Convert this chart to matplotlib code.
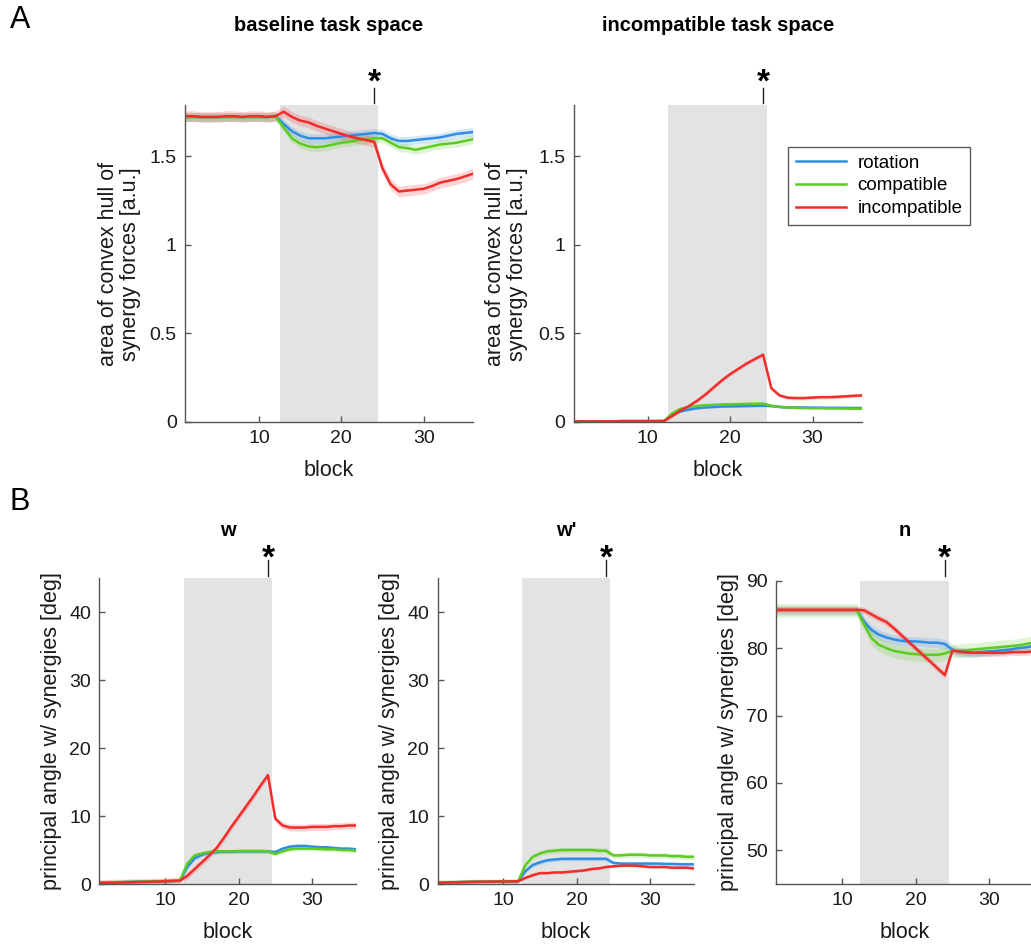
import matplotlib
matplotlib.use("Agg")
from matplotlib import pyplot as plt
from matplotlib.transforms import blended_transform_factory
import numpy as np

plt.rcParams['font.family'] = ['Liberation Sans', 'DejaVu Sans']

W, H = 1031, 946

blocks = list(range(1, 37))
series_names = ['rotation', 'compatible', 'incompatible']
colors = ['#2f8de4', '#5ccb22', '#f22b2b']

# A: area of convex hull, baseline task space
base_rot = [1.72, 1.72, 1.72, 1.72, 1.72, 1.72, 1.72, 1.72, 1.72, 1.72, 1.72, 1.725,
            1.68, 1.64, 1.615, 1.60, 1.60, 1.60, 1.605, 1.61, 1.615, 1.62, 1.625, 1.63,
            1.625, 1.60, 1.585, 1.585, 1.59, 1.595, 1.60, 1.605, 1.615, 1.625, 1.63, 1.635]
base_comp = [1.72, 1.72, 1.72, 1.72, 1.72, 1.72, 1.72, 1.72, 1.72, 1.72, 1.72, 1.725,
             1.66, 1.60, 1.57, 1.555, 1.55, 1.555, 1.565, 1.575, 1.58, 1.59, 1.595, 1.60,
             1.60, 1.575, 1.55, 1.545, 1.535, 1.545, 1.555, 1.565, 1.57, 1.575, 1.585, 1.595]
base_incomp = [1.725, 1.725, 1.72, 1.72, 1.72, 1.725, 1.725, 1.72, 1.725, 1.725, 1.72, 1.725,
               1.75, 1.72, 1.70, 1.69, 1.67, 1.655, 1.64, 1.625, 1.61, 1.60, 1.59, 1.58,
               1.43, 1.34, 1.30, 1.305, 1.31, 1.315, 1.33, 1.35, 1.36, 1.37, 1.385, 1.40]

# A: incompatible task space
inc_rot = [0.003, 0.003, 0.003, 0.004, 0.004, 0.004, 0.005, 0.005, 0.005, 0.005, 0.005, 0.006,
           0.04, 0.06, 0.07, 0.078, 0.082, 0.085, 0.087, 0.088, 0.089, 0.09, 0.091, 0.092,
           0.09, 0.085, 0.083, 0.082, 0.082, 0.081, 0.081, 0.08, 0.08, 0.08, 0.079, 0.079]
inc_comp = [0.003, 0.003, 0.003, 0.004, 0.004, 0.004, 0.005, 0.005, 0.005, 0.005, 0.005, 0.006,
            0.05, 0.075, 0.085, 0.09, 0.095, 0.097, 0.099, 0.10, 0.101, 0.102, 0.103, 0.104,
            0.092, 0.085, 0.082, 0.08, 0.079, 0.078, 0.078, 0.077, 0.077, 0.076, 0.075, 0.075]
inc_incomp = [0.003, 0.003, 0.003, 0.004, 0.004, 0.004, 0.005, 0.005, 0.005, 0.005, 0.005, 0.006,
              0.035, 0.065, 0.09, 0.12, 0.155, 0.195, 0.235, 0.27, 0.30, 0.33, 0.355, 0.38,
              0.19, 0.15, 0.137, 0.135, 0.135, 0.138, 0.14, 0.14, 0.142, 0.145, 0.148, 0.15]

# B: principal angles
w_rot = [0.2, 0.22, 0.25, 0.27, 0.3, 0.32, 0.35, 0.38, 0.4, 0.42, 0.45, 0.5,
         2.5, 3.8, 4.3, 4.6, 4.7, 4.75, 4.75, 4.8, 4.8, 4.8, 4.8, 4.8,
         4.7, 5.2, 5.5, 5.6, 5.6, 5.5, 5.4, 5.4, 5.3, 5.2, 5.2, 5.1]
w_comp = [0.2, 0.22, 0.25, 0.27, 0.3, 0.32, 0.35, 0.38, 0.4, 0.42, 0.45, 0.5,
          3.0, 4.2, 4.5, 4.7, 4.8, 4.8, 4.8, 4.85, 4.85, 4.85, 4.85, 4.8,
          4.4, 4.8, 5.1, 5.2, 5.2, 5.2, 5.15, 5.1, 5.1, 5.0, 5.0, 4.9]
w_incomp = [0.15, 0.18, 0.2, 0.22, 0.25, 0.28, 0.3, 0.33, 0.36, 0.4, 0.45, 0.5,
            1.2, 2.2, 3.2, 4.2, 5.3, 6.8, 8.4, 9.9, 11.4, 12.9, 14.5, 16.0,
            9.6, 8.6, 8.3, 8.3, 8.3, 8.4, 8.4, 8.4, 8.5, 8.5, 8.6, 8.6]

wp_rot = [0.2, 0.22, 0.25, 0.27, 0.3, 0.32, 0.33, 0.35, 0.36, 0.37, 0.38, 0.4,
          1.9, 2.8, 3.2, 3.5, 3.6, 3.7, 3.7, 3.7, 3.7, 3.7, 3.7, 3.7,
          3.1, 3.0, 3.0, 3.0, 3.0, 3.0, 3.0, 2.95, 2.95, 2.9, 2.9, 2.9]
wp_comp = [0.2, 0.22, 0.25, 0.27, 0.3, 0.32, 0.33, 0.35, 0.36, 0.37, 0.38, 0.4,
           2.8, 4.0, 4.5, 4.8, 4.9, 5.0, 5.0, 5.0, 5.0, 5.0, 4.9, 4.9,
           4.2, 4.2, 4.3, 4.3, 4.3, 4.2, 4.2, 4.2, 4.1, 4.1, 4.0, 4.0]
wp_incomp = [0.2, 0.22, 0.25, 0.27, 0.3, 0.32, 0.33, 0.35, 0.36, 0.37, 0.38, 0.4,
             0.9, 1.3, 1.6, 1.6, 1.7, 1.7, 1.8, 1.9, 2.0, 2.2, 2.3, 2.5,
             2.6, 2.7, 2.7, 2.7, 2.6, 2.5, 2.5, 2.5, 2.4, 2.4, 2.4, 2.3]

n_rot = [85.6, 85.6, 85.6, 85.6, 85.6, 85.6, 85.6, 85.6, 85.6, 85.6, 85.6, 85.6,
         83.9, 82.7, 82.0, 81.6, 81.3, 81.1, 81.0, 81.0, 80.9, 80.8, 80.8, 80.6,
         79.8, 79.4, 79.3, 79.3, 79.4, 79.5, 79.6, 79.7, 79.8, 80.0, 80.1, 80.3]
n_comp = [85.6, 85.6, 85.6, 85.6, 85.6, 85.6, 85.6, 85.6, 85.6, 85.6, 85.6, 85.6,
          83.5, 81.5, 80.5, 80.0, 79.6, 79.4, 79.2, 79.1, 79.0, 79.0, 79.0, 79.2,
          79.6, 79.6, 79.7, 79.8, 79.9, 80.0, 80.1, 80.2, 80.3, 80.4, 80.6, 80.8]
n_incomp = [85.7, 85.7, 85.7, 85.7, 85.7, 85.7, 85.7, 85.7, 85.7, 85.7, 85.7, 85.7,
            85.6, 85.0, 84.4, 83.9, 83.0, 82.0, 81.0, 80.0, 79.0, 78.0, 77.0, 76.0,
            79.6, 79.5, 79.4, 79.3, 79.3, 79.3, 79.3, 79.3, 79.4, 79.4, 79.4, 79.5]

# half width of shaded error bands (rotation, compatible, incompatible)
band_base = [0.025, 0.025, 0.03]
band_inc = [0.006, 0.006, 0.01]
band_w = [0.3, 0.3, 0.5]
band_wp = [0.3, 0.4, 0.2]
band_n = [0.7, 1.0, 0.5]


def px_axes(left, top, right, bottom):
    return fig.add_axes([left / W, 1 - bottom / H, (right - left) / W, (bottom - top) / H])


def draw_panel(ax, data, bands, ylim, yticks, yticklabels, ylabel, title, title_gap,
               line_gap, star_gap):
    ax.axvspan(12.5, 24.5, color='#e3e3e3', lw=0, zorder=0)
    x = np.array(blocks)
    for vals, b, c, name in zip(data, bands, colors, series_names):
        v = np.array(vals)
        ax.fill_between(x, v - b, v + b, color=c, alpha=0.2, lw=0, zorder=1)
        ax.plot(x, v, color=c, lw=1.8, label=name, zorder=2)
    ax.set_xlim(1, 36)
    ax.set_ylim(*ylim)
    ax.set_xticks([10, 20, 30])
    ax.set_yticks(yticks)
    ax.set_yticklabels(yticklabels)
    for s in ['top', 'right']:
        ax.spines[s].set_visible(False)
    for s in ['left', 'bottom']:
        ax.spines[s].set_color('#555555')
        ax.spines[s].set_linewidth(1.0)
    ax.tick_params(direction='in', length=4, width=1, colors='#555555',
                   labelcolor='#1a1a1a', labelsize=14, pad=6)
    ax.set_xlabel('block', fontsize=15.5, color='#1a1a1a')
    ax.set_ylabel(ylabel, fontsize=15.5, color='#1a1a1a', linespacing=1.05)

    hpx = ax.get_position().height * H
    ax.xaxis.set_label_coords(0.5, -38 / hpx)
    ax.text(0.5, 1 + title_gap / hpx, title, transform=ax.transAxes, ha='center', va='center',
            fontsize=14.5, fontweight='bold')
    tr = blended_transform_factory(ax.transData, ax.transAxes)
    ax.plot([24, 24], [1 + line_gap[0] / hpx, 1 + line_gap[1] / hpx], color='#222222', lw=1,
            transform=tr, clip_on=False)
    ax.text(24, 1 + star_gap / hpx, '*', transform=tr, ha='center', va='center',
            fontsize=24, fontweight='bold')


fig = plt.figure(figsize=(W / 100, H / 100), dpi=100)

a_ylab = 'area of convex hull of\nsynergy forces [a.u.]'
b_ylab = 'principal angle w/ synergies [deg]'
a_ticks = [0, 0.5, 1, 1.5]
a_labels = ['0', '0.5', '1', '1.5']

ax1 = px_axes(185, 105.5, 473, 422)
draw_panel(ax1, [base_rot, base_comp, base_incomp], band_base, (0, 1.785), a_ticks, a_labels,
           a_ylab, 'baseline task space', 80, (2, 17), 22)
ax1.yaxis.set_label_coords(-0.153, 0.5)

ax2 = px_axes(573.5, 105.5, 862, 422)
draw_panel(ax2, [inc_rot, inc_comp, inc_incomp], band_inc, (0, 1.785), a_ticks, a_labels,
           a_ylab, 'incompatible task space', 80, (2, 17), 22)
ax2.yaxis.set_label_coords(-0.157, 0.5)
leg = ax2.legend(loc='upper left', bbox_to_anchor=((788 - 573.5) / 288.5, (422 - 147) / 316.5),
                 fontsize=13.5, frameon=True, fancybox=False, handlelength=2.7,
                 borderpad=0.4, labelspacing=0.3, handletextpad=0.6, borderaxespad=0)
leg.get_frame().set_edgecolor('#333333')
leg.get_frame().set_linewidth(1.0)

b_ticks = [0, 10, 20, 30, 40]
ax3 = px_axes(99.3, 578, 356, 884)
draw_panel(ax3, [w_rot, w_comp, w_incomp], band_w, (0, 45), b_ticks, [str(t) for t in b_ticks],
           b_ylab, 'w', 48, (2, 18), 19)
ax3.yaxis.set_label_coords(-0.145, 0.5)

ax4 = px_axes(437.5, 578, 694, 884)
draw_panel(ax4, [wp_rot, wp_comp, wp_incomp], band_wp, (0, 45), b_ticks, [str(t) for t in b_ticks],
           b_ylab, "w'", 48, (2, 18), 19)
ax4.yaxis.set_label_coords(-0.146, 0.5)

n_ticks = [50, 60, 70, 80, 90]
ax5 = px_axes(776, 580.7, 1033, 884)
draw_panel(ax5, [n_rot, n_comp, n_incomp], band_n, (45, 90), n_ticks, [str(t) for t in n_ticks],
           b_ylab, 'n', 50.7, (4.7, 20.7), 21.7)
ax5.yaxis.set_label_coords(-0.144, 0.5)

fig.text(10 / W, 1 - 20 / H, 'A', fontsize=22, ha='left', va='center')
fig.text(10 / W, 1 - 502 / H, 'B', fontsize=22, ha='left', va='center')

fig.savefig('out.png', dpi=100)
